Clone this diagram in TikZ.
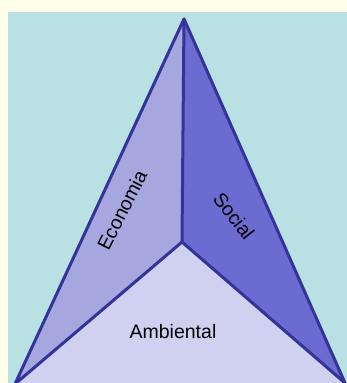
\documentclass[tikz,border=0pt]{standalone}
\usepackage{fontspec}
\setmainfont{Liberation Sans}
\definecolor{paper}{HTML}{FFFFE8}
\definecolor{sea}{HTML}{B9E0E3}
\definecolor{faceL}{HTML}{A7A7E0}
\definecolor{faceR}{HTML}{6B6BD2}
\definecolor{faceB}{HTML}{D0D0F0}
\definecolor{edge}{HTML}{333399}
\tikzset{
  ridge/.style={draw=edge, line width=3pt, line join=round, line cap=round},
  lbl/.style={font=\fontsize{19.5}{23}\selectfont, text=black, inner sep=0pt}
}
\begin{document}
\begin{tikzpicture}[x=1pt,y=-1pt]
\useasboundingbox (0,0) rectangle (347,383);
\clip (0,0) rectangle (347,383);
\fill[paper] (0,0) rectangle (347,383);
\fill[sea] (8,12) rectangle (347,383);
\coordinate (apex) at (184,19);
\coordinate (ctr) at (182,242);
\coordinate (bl) at (15,384);
\coordinate (br) at (345,383);
\fill[faceL] (apex) -- (ctr) -- (bl) -- cycle;
\fill[faceR] (apex) -- (br) -- (ctr) -- cycle;
\fill[faceB] (bl) -- (ctr) -- (br) -- (347,390) -- (10,390) -- cycle;
\draw[ridge] (bl) -- (apex) -- (br);
\draw[ridge] (apex) -- (ctr);
\draw[ridge] (bl) -- (ctr) -- (br);
\node[lbl, rotate=63] (eco) at (122,210) {Economia};
\node[lbl, rotate=-52] (soc) at (234,216) {Social};
\node[lbl] (amb) at (173,332) {Ambiental};
\end{tikzpicture}
\end{document}
